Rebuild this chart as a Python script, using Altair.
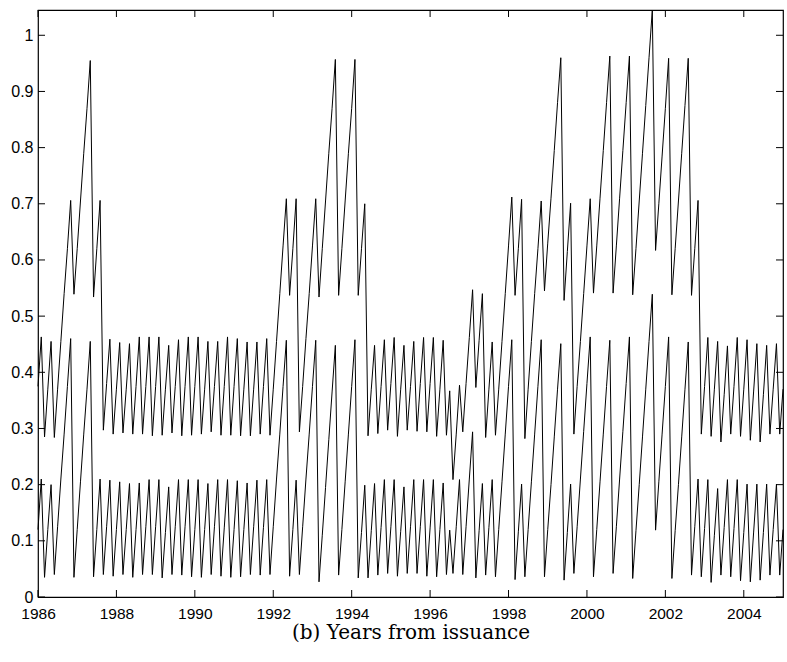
import altair as alt
import pandas as pd

# Monthly observations, January 1986 (index 0) to January 2005 (index 228)
first_year = 1986

# Series A (lower band)
series_a = [
    0.12, 0.21, 0.035, 0.12, 0.20, 0.04, 0.125, 0.21, 0.29, 0.375, 0.46, 0.035,      # 1986
    0.12, 0.205, 0.29, 0.37, 0.455, 0.036, 0.12, 0.21, 0.04, 0.125, 0.208, 0.037,    # 1987
    0.12, 0.205, 0.04, 0.12, 0.202, 0.035, 0.12, 0.203, 0.04, 0.125, 0.209, 0.04,    # 1988
    0.125, 0.209, 0.034, 0.115, 0.196, 0.04, 0.125, 0.209, 0.039, 0.125, 0.209, 0.036,  # 1989
    0.12, 0.209, 0.035, 0.12, 0.202, 0.04, 0.125, 0.209, 0.037, 0.123, 0.209, 0.035,   # 1990
    0.12, 0.207, 0.036, 0.12, 0.203, 0.04, 0.125, 0.208, 0.039, 0.124, 0.209, 0.04,    # 1991
    0.125, 0.21, 0.29, 0.375, 0.457, 0.037, 0.12, 0.208, 0.04, 0.125, 0.21, 0.29,      # 1992
    0.375, 0.457, 0.027, 0.11, 0.195, 0.28, 0.365, 0.448, 0.039, 0.12, 0.205, 0.29,    # 1993
    0.375, 0.458, 0.034, 0.115, 0.199, 0.034, 0.118, 0.202, 0.039, 0.124, 0.209, 0.042,  # 1994
    0.125, 0.209, 0.037, 0.117, 0.196, 0.042, 0.125, 0.209, 0.042, 0.125, 0.209, 0.037,  # 1995
    0.123, 0.209, 0.036, 0.12, 0.203, 0.04, 0.119, 0.042, 0.125, 0.209, 0.04, 0.125,    # 1996
    0.21, 0.294, 0.034, 0.118, 0.202, 0.039, 0.124, 0.209, 0.036, 0.12, 0.205, 0.29,    # 1997
    0.375, 0.458, 0.031, 0.116, 0.201, 0.036, 0.12, 0.205, 0.29, 0.375, 0.458, 0.036,   # 1998
    0.12, 0.20, 0.285, 0.37, 0.451, 0.03, 0.115, 0.201, 0.042, 0.125, 0.21, 0.295,      # 1999
    0.38, 0.463, 0.036, 0.12, 0.205, 0.29, 0.375, 0.457, 0.042, 0.125, 0.21, 0.295,     # 2000
    0.38, 0.463, 0.033, 0.118, 0.20, 0.285, 0.37, 0.455, 0.539, 0.119, 0.205, 0.29,     # 2001
    0.375, 0.463, 0.033, 0.118, 0.20, 0.285, 0.37, 0.454, 0.039, 0.125, 0.21, 0.036,    # 2002
    0.122, 0.209, 0.026, 0.11, 0.193, 0.039, 0.124, 0.209, 0.036, 0.122, 0.209, 0.029,  # 2003
    0.115, 0.201, 0.027, 0.114, 0.201, 0.03, 0.115, 0.201, 0.039, 0.12, 0.201, 0.039,   # 2004
    0.12,                                                                               # 2005
]

# Series B (upper band)
series_b = [
    0.375, 0.463, 0.285, 0.37, 0.455, 0.284, 0.37, 0.455, 0.54, 0.62, 0.706, 0.539,     # 1986
    0.62, 0.705, 0.79, 0.87, 0.955, 0.534, 0.62, 0.706, 0.297, 0.38, 0.459, 0.29,       # 1987
    0.37, 0.453, 0.292, 0.37, 0.451, 0.29, 0.375, 0.463, 0.29, 0.375, 0.463, 0.287,     # 1988
    0.375, 0.463, 0.288, 0.37, 0.448, 0.292, 0.375, 0.458, 0.287, 0.375, 0.463, 0.288,  # 1989
    0.375, 0.463, 0.29, 0.37, 0.455, 0.294, 0.375, 0.455, 0.288, 0.375, 0.463, 0.288,   # 1990
    0.375, 0.46, 0.287, 0.37, 0.454, 0.287, 0.37, 0.454, 0.29, 0.375, 0.46, 0.288,      # 1991
    0.37, 0.455, 0.54, 0.625, 0.709, 0.537, 0.62, 0.709, 0.294, 0.375, 0.46, 0.54,      # 1992
    0.625, 0.709, 0.534, 0.62, 0.705, 0.79, 0.87, 0.957, 0.537, 0.62, 0.705, 0.79,      # 1993
    0.87, 0.957, 0.537, 0.62, 0.70, 0.287, 0.37, 0.448, 0.291, 0.375, 0.458, 0.297,     # 1994
    0.38, 0.462, 0.286, 0.37, 0.448, 0.297, 0.375, 0.455, 0.295, 0.38, 0.462, 0.294,    # 1995
    0.38, 0.462, 0.286, 0.37, 0.457, 0.288, 0.367, 0.209, 0.29, 0.377, 0.294, 0.38,     # 1996
    0.462, 0.547, 0.373, 0.457, 0.54, 0.284, 0.37, 0.454, 0.288, 0.37, 0.455, 0.54,     # 1997
    0.625, 0.712, 0.537, 0.62, 0.708, 0.282, 0.37, 0.455, 0.54, 0.62, 0.705, 0.545,     # 1998
    0.63, 0.71, 0.795, 0.88, 0.96, 0.528, 0.615, 0.701, 0.29, 0.375, 0.455, 0.54,       # 1999
    0.625, 0.709, 0.541, 0.625, 0.71, 0.795, 0.88, 0.963, 0.541, 0.625, 0.71, 0.795,    # 2000
    0.88, 0.963, 0.538, 0.62, 0.705, 0.79, 0.875, 0.96, 1.045, 0.617, 0.70, 0.785,      # 2001
    0.87, 0.959, 0.538, 0.62, 0.705, 0.79, 0.875, 0.959, 0.537, 0.62, 0.706, 0.29,      # 2002
    0.375, 0.462, 0.286, 0.37, 0.455, 0.276, 0.36, 0.447, 0.29, 0.375, 0.462, 0.286,    # 2003
    0.37, 0.458, 0.279, 0.365, 0.451, 0.276, 0.36, 0.448, 0.29, 0.37, 0.451, 0.29,      # 2004
    0.37,                                                                               # 2005
]

x_ticks = [1986, 1988, 1990, 1992, 1994, 1996, 1998, 2000, 2002, 2004]
y_ticks = [0, 0.1, 0.2, 0.3, 0.4, 0.5, 0.6, 0.7, 0.8, 0.9, 1]
x_title = "(b) Years from issuance"

n_a = len(series_a)
n_b = len(series_b)
df = pd.DataFrame({
    "year": [first_year + i / 12 for i in range(n_a)] + [first_year + i / 12 for i in range(n_b)],
    "value": series_a + series_b,
    "series": ["A"] * n_a + ["B"] * n_b,
})
xt = pd.DataFrame({"year": x_ticks})
yt = pd.DataFrame({"value": y_ticks})

W, H = 745, 587
TL = 7
xs = alt.Scale(domain=[1986, 2005], nice=False, zero=False)
ys = alt.Scale(domain=[0, 1.045], nice=False, zero=False)
label_font = "Liberation Sans"

x_axis = alt.Axis(
    values=x_ticks, format="d", ticks=False, domain=False, grid=False,
    labelFont=label_font, labelFontSize=15.5, labelColor="black", labelPadding=9,
    labelFlush=False, labelOverlap=False,
    title=x_title, titleFont="DejaVu Serif", titleFontSize=20,
    titleFontWeight="normal", titleColor="black", titlePadding=1)
y_axis = alt.Axis(
    values=y_ticks, format="~g", ticks=False, domain=False, grid=False,
    labelFont=label_font, labelFontSize=16, labelColor="black", labelPadding=5,
    labelOverlap=False, title=None)

lines = alt.Chart(df).mark_line(color="black", strokeWidth=1).encode(
    x=alt.X("year:Q", scale=xs, axis=x_axis),
    y=alt.Y("value:Q", scale=ys, axis=y_axis),
    detail="series:N",
)

tick_bottom = alt.Chart(xt).mark_rule(color="black", strokeWidth=1).encode(
    x=alt.X("year:Q", scale=xs, axis=x_axis), y=alt.value(H), y2=alt.value(H - TL))
tick_top = alt.Chart(xt).mark_rule(color="black", strokeWidth=1).encode(
    x=alt.X("year:Q", scale=xs, axis=x_axis), y=alt.value(0), y2=alt.value(TL))
tick_left = alt.Chart(yt).mark_rule(color="black", strokeWidth=1).encode(
    y=alt.Y("value:Q", scale=ys, axis=y_axis), x=alt.value(0), x2=alt.value(TL))
tick_right = alt.Chart(yt).mark_rule(color="black", strokeWidth=1).encode(
    y=alt.Y("value:Q", scale=ys, axis=y_axis), x=alt.value(W), x2=alt.value(W - TL))

chart = alt.layer(lines, tick_bottom, tick_top, tick_left, tick_right).properties(
    width=W, height=H,
    padding={"left": 38, "top": 10, "right": 4, "bottom": 65},
    autosize=alt.AutoSizeParams(type="none"),
    background="white",
).configure_view(stroke="black", strokeWidth=1.2)

chart.save("out.html", embed_options={"renderer": "svg", "actions": False})
